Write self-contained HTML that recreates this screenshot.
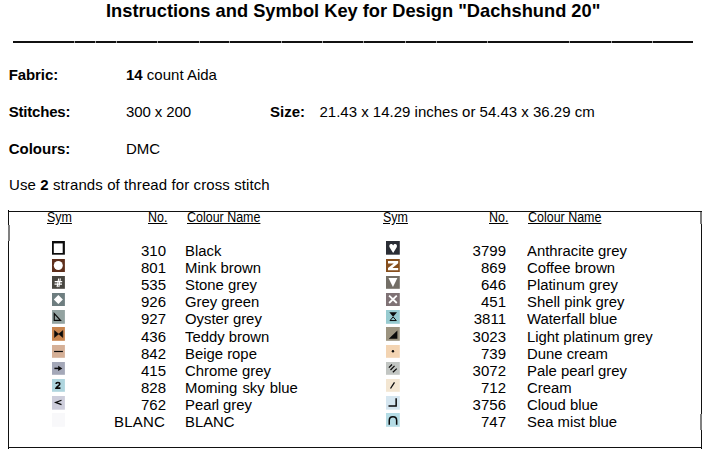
<!DOCTYPE html>
<html><head><meta charset="utf-8"><title>Symbol Key</title>
<style>
html,body{margin:0;padding:0;background:#fff;}
body{width:711px;height:456px;position:relative;overflow:hidden;font-family:"Liberation Sans",sans-serif;color:#000;font-size:15px;line-height:17px;}
.t{position:absolute;white-space:pre;}
.b{font-weight:bold;}
.r{text-align:right;font-size:15.5px;transform:scaleX(0.968);transform-origin:100% 0;}
.n{font-size:15.5px;transform:scaleX(0.959);transform-origin:0 0;}
.h{font-size:14px;line-height:17px;text-decoration:underline;transform:scaleX(0.89);transform-origin:0 0;}
.s{position:absolute;line-height:0;}
.s svg{display:block;}
#title{font-size:18.27px;font-weight:bold;line-height:22px;}
#rule{position:absolute;left:13px;top:41px;width:680px;height:2px;background:#111;}
#box{position:absolute;left:8px;top:211px;width:692px;height:235px;border:1px solid #111;box-sizing:content-box;}
</style></head><body>

<div class="t" id="title" style="left:106px;top:-0.33px">Instructions and Symbol Key for Design "Dachshund 20"</div>
<div id="rule"></div>
<div style="position:absolute;left:73.9px;top:41px;width:0.8px;height:2px;background:rgba(255,255,255,.6)"></div>
<div style="position:absolute;left:95.1px;top:41px;width:0.8px;height:2px;background:rgba(255,255,255,.6)"></div>
<div style="position:absolute;left:116.1px;top:41px;width:0.8px;height:2px;background:rgba(255,255,255,.6)"></div>
<div style="position:absolute;left:157.2px;top:41px;width:0.8px;height:2px;background:rgba(255,255,255,.6)"></div>
<div style="position:absolute;left:198.8px;top:41px;width:0.8px;height:2px;background:rgba(255,255,255,.6)"></div>
<div style="position:absolute;left:229.1px;top:41px;width:0.8px;height:2px;background:rgba(255,255,255,.6)"></div>
<div style="position:absolute;left:280.9px;top:41px;width:0.8px;height:2px;background:rgba(255,255,255,.6)"></div>
<div style="position:absolute;left:322.4px;top:41px;width:0.8px;height:2px;background:rgba(255,255,255,.6)"></div>
<div style="position:absolute;left:362.9px;top:41px;width:0.8px;height:2px;background:rgba(255,255,255,.6)"></div>
<div style="position:absolute;left:404.5px;top:41px;width:0.8px;height:2px;background:rgba(255,255,255,.6)"></div>
<div style="position:absolute;left:435.5px;top:41px;width:0.8px;height:2px;background:rgba(255,255,255,.6)"></div>
<div style="position:absolute;left:486.5px;top:41px;width:0.8px;height:2px;background:rgba(255,255,255,.6)"></div>
<div style="position:absolute;left:569.2px;top:41px;width:0.8px;height:2px;background:rgba(255,255,255,.6)"></div>
<div style="position:absolute;left:610.7px;top:41px;width:0.8px;height:2px;background:rgba(255,255,255,.6)"></div>
<div style="position:absolute;left:651.9px;top:41px;width:0.8px;height:2px;background:rgba(255,255,255,.6)"></div>
<div class="t b" style="left:8.7px;top:66.30px;letter-spacing:-0.09px">Fabric:</div>
<div class="t " style="left:126px;top:66.30px;"><b>14</b> count Aida</div>
<div class="t b" style="left:8.7px;top:103.30px;letter-spacing:-0.2px">Stitches:</div>
<div class="t " style="left:126px;top:103.30px;letter-spacing:-0.1px">300 x 200</div>
<div class="t b" style="left:270px;top:103.30px;">Size:</div>
<div class="t " style="left:319.5px;top:103.30px;">21.43 x 14.29 inches or 54.43 x 36.29 cm</div>
<div class="t b" style="left:8.7px;top:140.30px;">Colours:</div>
<div class="t " style="left:126px;top:140.30px;">DMC</div>
<div class="t " style="left:9px;top:176.30px;letter-spacing:0.1px">Use <b>2</b> strands of thread for cross stitch</div>
<div id="box"></div>
<div style="position:absolute;left:8px;top:224.5px;width:2px;height:16.7px;background:#808080"></div>
<div style="position:absolute;left:700px;top:212px;width:2px;height:12px;background:#7c7c7c"></div>
<div style="position:absolute;left:700px;top:414px;width:2px;height:16.3px;background:#808080"></div>
<div style="position:absolute;left:8px;top:209.8px;width:1px;height:1.2px;background:#000"></div>
<div style="position:absolute;left:8px;top:448px;width:1px;height:0.9px;background:#000"></div>
<div style="position:absolute;left:701px;top:448px;width:1px;height:0.7px;background:#000"></div>
<div class="t h" style="left:47.2px;top:209.05px;">Sym</div>
<div class="t h" style="left:147.8px;top:209.05px;">No.</div>
<div class="t h" style="left:187.0px;top:209.05px;">Colour Name</div>
<div class="t h" style="left:383.3px;top:209.05px;">Sym</div>
<div class="t h" style="left:488.7px;top:209.05px;">No.</div>
<div class="t h" style="left:527.9px;top:209.05px;">Colour Name</div>
<div class="s" style="left:52.1px;top:241.0px"><svg width="12.9" height="13.7" viewBox="0 0 12.9 13.7"><rect width="12.9" height="13.7" fill="#0c0c0c"/><rect x="1.8" y="2.4" width="8.9" height="9.6" fill="#fff"/></svg></div>
<div class="t r " style="left:65.6px;width:100px;top:242.13px;">310</div>
<div class="t n" style="left:185.4px;top:242.13px;">Black</div>
<div class="s" style="left:52.1px;top:258.9px"><svg width="12.9" height="13.0" viewBox="0 0 12.9 13.0"><rect width="12.9" height="13.0" fill="#5e2f1c"/><circle cx="6.3" cy="6.5" r="4.5" fill="#fff"/></svg></div>
<div class="t r " style="left:65.6px;width:100px;top:259.13px;">801</div>
<div class="t n" style="left:185.4px;top:259.13px;">Mink brown</div>
<div class="s" style="left:52.1px;top:275.9px"><svg width="12.9" height="12.8" viewBox="0 0 12.9 12.8"><rect width="12.9" height="12.8" fill="#484640"/><path d="M6.7 2.5L5.1 11.2M8.4 2.5L6.8 11.2" stroke="#fff" stroke-width="1.15" fill="none"/><path d="M2.7 5.6H10.2M2.5 8.25H10" stroke="#fff" stroke-width="1.25" fill="none"/></svg></div>
<div class="t r " style="left:65.6px;width:100px;top:276.13px;">535</div>
<div class="t n" style="left:185.4px;top:276.13px;">Stone grey</div>
<div class="s" style="left:52.1px;top:292.9px"><svg width="12.9" height="13.0" viewBox="0 0 12.9 13.0"><rect width="12.9" height="13.0" fill="#6e7e80"/><path d="M6.35 2L10.9 6.5L6.35 11L1.8 6.5Z" fill="#fff"/></svg></div>
<div class="t r " style="left:65.6px;width:100px;top:293.13px;">926</div>
<div class="t n" style="left:185.4px;top:293.13px;">Grey green</div>
<div class="s" style="left:52.1px;top:309.9px"><svg width="12.9" height="13.8" viewBox="0 0 12.9 13.8"><rect width="12.9" height="13.8" fill="#93a3a1"/><path d="M2.25 3.6V10.45H8.5Z" fill="none" stroke="#0a0a0a" stroke-width="1.2" stroke-linejoin="miter" stroke-miterlimit="10"/></svg></div>
<div class="t r " style="left:65.6px;width:100px;top:310.13px;">927</div>
<div class="t n" style="left:185.4px;top:310.13px;">Oyster grey</div>
<div class="s" style="left:52.1px;top:326.9px"><svg width="12.9" height="13.8" viewBox="0 0 12.9 13.8"><rect width="12.9" height="13.8" fill="#c8854f"/><path d="M2.5 3.6L6.65 7.05L2.5 10.5ZM10.8 3.6L6.65 7.05L10.8 10.5Z" fill="#0a0a0a" stroke="#0a0a0a" stroke-width="0.5" stroke-linejoin="miter"/></svg></div>
<div class="t r " style="left:65.6px;width:100px;top:328.13px;">436</div>
<div class="t n" style="left:185.4px;top:328.13px;">Teddy brown</div>
<div class="s" style="left:52.1px;top:345.0px"><svg width="12.9" height="12.8" viewBox="0 0 12.9 12.8"><rect width="12.9" height="12.8" fill="#d5b097"/><rect x="2.1" y="5.9" width="8.8" height="1.2" fill="#0a0a0a"/></svg></div>
<div class="t r " style="left:65.6px;width:100px;top:345.13px;">842</div>
<div class="t n" style="left:185.4px;top:345.13px;">Beige rope</div>
<div class="s" style="left:52.1px;top:361.9px"><svg width="12.9" height="12.8" viewBox="0 0 12.9 12.8"><rect width="12.9" height="12.8" fill="#a4a8b8"/><path d="M2.4 6.4H7.5" stroke="#0a0a0a" stroke-width="1.5" fill="none"/><path d="M6.2 3.8L10.3 6.4L6.2 9Z" fill="#0a0a0a"/></svg></div>
<div class="t r " style="left:65.6px;width:100px;top:362.13px;">415</div>
<div class="t n" style="left:185.4px;top:362.13px;">Chrome grey</div>
<div class="s" style="left:52.1px;top:379.1px"><svg width="12.9" height="12.8" viewBox="0 0 12.9 12.8"><rect width="12.9" height="12.8" fill="#afd5de"/><path d="M4.1 5C4.1 2.9 7.8 2.9 7.8 5C7.8 6.7 4.6 7.3 4 9.15H8.45" stroke="#0a0a0a" stroke-width="1.55" fill="none"/></svg></div>
<div class="t r " style="left:65.6px;width:100px;top:379.13px;">828</div>
<div class="t n" style="left:185.4px;top:379.13px;word-spacing:1px">Mo<span style="letter-spacing:-1.5px">r</span>ning sky blue</div>
<div class="s" style="left:52.1px;top:396.0px"><svg width="12.9" height="13.7" viewBox="0 0 12.9 13.7"><rect width="12.9" height="13.7" fill="#cdcddb"/><path d="M9.5 4.2L3.6 6.4L9.5 8.6" stroke="#0a0a0a" stroke-width="1.15" fill="none"/></svg></div>
<div class="t r " style="left:65.6px;width:100px;top:396.13px;">762</div>
<div class="t n" style="left:185.4px;top:396.13px;">Pea<span style="letter-spacing:-0.8px">r</span>l grey</div>
<div class="s" style="left:52.1px;top:413.1px"><svg width="12.9" height="13.8" viewBox="0 0 12.9 13.8"><rect width="12.9" height="13.8" fill="#f8f8fa"/></svg></div>
<div class="t r " style="left:65.0px;width:100px;top:413.13px;letter-spacing:0.2px">BLANC</div>
<div class="t n" style="left:185.4px;top:413.13px;">BLANC</div>
<div class="s" style="left:386.15px;top:241.0px"><svg width="13.8" height="13.7" viewBox="0 0 13.8 13.7"><rect width="13.8" height="13.7" fill="#2a2d35"/><path d="M7.15 12L3.7 6.6C2.7 4.6 3.7 2.9 5.1 2.9C6.2 2.9 6.9 3.6 7.15 4.4C7.4 3.6 8.1 2.9 9.2 2.9C10.6 2.9 11.6 4.6 10.6 6.6Z" fill="#fff"/></svg></div>
<div class="t r " style="left:405.9px;width:100px;top:242.13px;">3799</div>
<div class="t n" style="left:527.4px;top:242.13px;">Anthracite grey</div>
<div class="s" style="left:386.15px;top:258.9px"><svg width="13.8" height="13.0" viewBox="0 0 13.8 13.0"><rect width="13.8" height="13.0" fill="#874f1d"/><path d="M2 2.1H12.2V4.3L6.4 9H12.2V11.3H2V9.1L7.8 4.4H2Z" fill="#fff"/></svg></div>
<div class="t r " style="left:405.9px;width:100px;top:259.13px;">869</div>
<div class="t n" style="left:527.4px;top:259.13px;">Coffee brown</div>
<div class="s" style="left:386.15px;top:275.9px"><svg width="13.8" height="12.8" viewBox="0 0 13.8 12.8"><rect width="13.8" height="12.8" fill="#736e66"/><path d="M2.5 2H11.4L6.95 11.1Z" fill="#fff"/></svg></div>
<div class="t r " style="left:405.9px;width:100px;top:276.13px;">646</div>
<div class="t n" style="left:527.4px;top:276.13px;">Platinum grey</div>
<div class="s" style="left:386.15px;top:292.9px"><svg width="13.8" height="13.0" viewBox="0 0 13.8 13.0"><rect width="13.8" height="13.0" fill="#7f7275"/><path d="M3.1 2.6L10.8 10M10.8 2.6L3.1 10" stroke="#fff" stroke-width="1.8" fill="none"/></svg></div>
<div class="t r " style="left:405.9px;width:100px;top:293.13px;">451</div>
<div class="t n" style="left:527.4px;top:293.13px;">Shell pink grey</div>
<div class="s" style="left:386.15px;top:309.9px"><svg width="13.8" height="13.8" viewBox="0 0 13.8 13.8"><rect width="13.8" height="13.8" fill="#97cbd0"/><path d="M3.3 2.3H11L7.15 6.7Z" fill="#0a0a0a"/><path d="M7.15 6.9L4 10.55H10.3Z" fill="none" stroke="#0a0a0a" stroke-width="1"/></svg></div>
<div class="t r " style="left:405.9px;width:100px;top:310.13px;">3811</div>
<div class="t n" style="left:527.4px;top:310.13px;">Waterfall blue</div>
<div class="s" style="left:386.15px;top:326.9px"><svg width="13.8" height="13.8" viewBox="0 0 13.8 13.8"><rect width="13.8" height="13.8" fill="#9c9480"/><path d="M11.4 3.5V11.8H2.8Z" fill="#0a0a0a"/></svg></div>
<div class="t r " style="left:405.9px;width:100px;top:328.13px;">3023</div>
<div class="t n" style="left:527.4px;top:328.13px;">Light platinum grey</div>
<div class="s" style="left:386.15px;top:345.0px"><svg width="13.8" height="12.8" viewBox="0 0 13.8 12.8"><rect width="13.8" height="12.8" fill="#f3d4b2"/><circle cx="6.95" cy="6.3" r="1.2" fill="#0a0a0a"/></svg></div>
<div class="t r " style="left:405.9px;width:100px;top:345.13px;">739</div>
<div class="t n" style="left:527.4px;top:345.13px;">Dune cream</div>
<div class="s" style="left:386.15px;top:361.9px"><svg width="13.8" height="12.8" viewBox="0 0 13.8 12.8"><rect width="13.8" height="12.8" fill="#c2c6c3"/><path d="M2.9 5.6L6 2.5M4.5 7.95L8.55 3.9M6.85 10.3L10.75 6.65" stroke="#0a0a0a" stroke-width="1.3" fill="none"/></svg></div>
<div class="t r " style="left:405.9px;width:100px;top:362.13px;">3072</div>
<div class="t n" style="left:527.4px;top:362.13px;">Pale pearl grey</div>
<div class="s" style="left:386.15px;top:379.1px"><svg width="13.8" height="12.8" viewBox="0 0 13.8 12.8"><rect width="13.8" height="12.8" fill="#f3e6d2"/><path d="M4.5 9.5L8.5 3.3" stroke="#0a0a0a" stroke-width="1.3" fill="none"/></svg></div>
<div class="t r " style="left:405.9px;width:100px;top:379.13px;">712</div>
<div class="t n" style="left:527.4px;top:379.13px;">Cream</div>
<div class="s" style="left:386.15px;top:396.0px"><svg width="13.8" height="13.7" viewBox="0 0 13.8 13.7"><rect width="13.8" height="13.7" fill="#d5e6f0"/><path d="M2.5 10.1H10.15V2.3" stroke="#0a0a0a" stroke-width="1.5" fill="none"/></svg></div>
<div class="t r " style="left:405.9px;width:100px;top:396.13px;">3756</div>
<div class="t n" style="left:527.4px;top:396.13px;">Cloud blue</div>
<div class="s" style="left:386.15px;top:413.1px"><svg width="13.8" height="13.8" viewBox="0 0 13.8 13.8"><rect width="13.8" height="13.8" fill="#b5dce5"/><path d="M3.25 11.8V7.4C3.25 2.4 10.65 2.4 10.65 7.4V11.8" stroke="#0a0a0a" stroke-width="1.5" fill="none"/></svg></div>
<div class="t r " style="left:405.9px;width:100px;top:413.13px;">747</div>
<div class="t n" style="left:527.4px;top:413.13px;">Sea mist blue</div>
</body></html>
